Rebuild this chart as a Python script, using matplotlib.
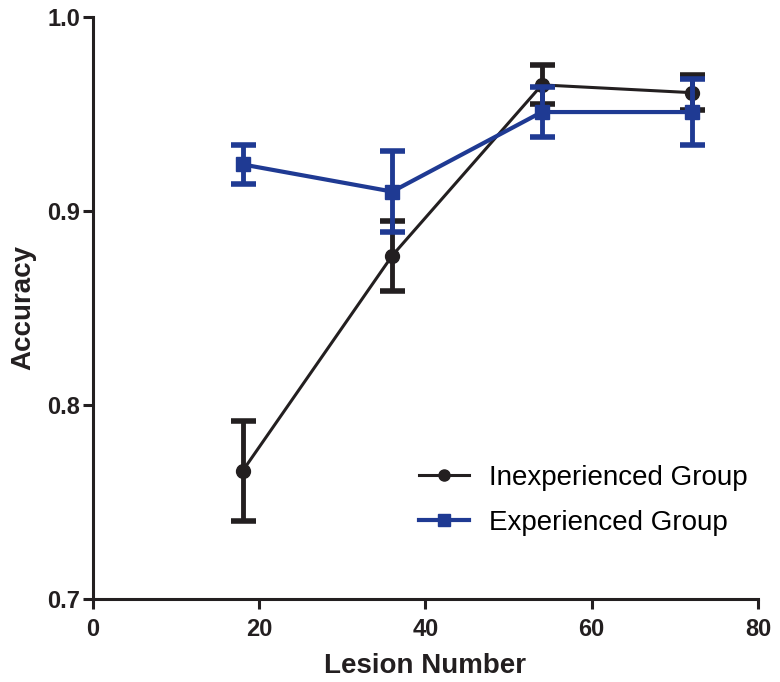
import numpy as np
import matplotlib.pyplot as plt
from matplotlib.lines import Line2D

# lesion number on x, accuracy (mean and SEM) on y
lesion_number = [18, 36, 54, 72]
inexp_acc = [0.766, 0.877, 0.965, 0.961]
inexp_err = [0.026, 0.018, 0.010, 0.009]
exp_acc = [0.924, 0.910, 0.951, 0.951]
exp_err = [0.010, 0.021, 0.013, 0.017]

black = '#231f20'
blue = '#1f3a93'

plt.rcParams['font.family'] = ['Liberation Sans', 'DejaVu Sans']

fig = plt.figure(figsize=(7.8, 6.82), dpi=100)
ax = fig.add_axes([0.1192, 0.1217, 0.8526, 0.8534])

ax.errorbar(lesion_number, inexp_acc, yerr=inexp_err, color=black, lw=2.2,
            marker='o', ms=10, elinewidth=3.5, capsize=9, capthick=4,
            label='Inexperienced Group', zorder=3)
ax.errorbar(lesion_number, exp_acc, yerr=exp_err, color=blue, lw=3,
            marker='s', ms=10, elinewidth=3.5, capsize=9, capthick=4,
            label='Experienced Group', zorder=4)

ax.set_xlim(0, 80)
ax.set_ylim(0.7, 1.0)
ax.set_xticks([0, 20, 40, 60, 80])
ax.set_yticks([0.7, 0.8, 0.9, 1.0])
ax.set_yticklabels(['0.7', '0.8', '0.9', '1.0'])

for side in ['top', 'right']:
    ax.spines[side].set_visible(False)
for side in ['left', 'bottom']:
    ax.spines[side].set_linewidth(2.2)
    ax.spines[side].set_color(black)
ax.tick_params(width=2.2, length=7, color=black, labelsize=17)
ax.tick_params(axis='x', pad=7)
ax.tick_params(axis='y', pad=2)
for lbl in ax.get_xticklabels() + ax.get_yticklabels():
    lbl.set_fontweight('bold')
    lbl.set_color(black)

ax.set_xlabel('Lesion Number', fontsize=20, fontweight='bold', color=black, labelpad=8)
ax.set_ylabel('Accuracy', fontsize=20, fontweight='bold', color=black, labelpad=8)

handles = [Line2D([], [], color=black, lw=2.2, marker='o', ms=8),
           Line2D([], [], color=blue, lw=3, marker='s', ms=8)]
ax.legend(handles, ['Inexperienced Group', 'Experienced Group'], frameon=False,
          fontsize=20, loc='lower left', bbox_to_anchor=(0.453, 0.065),
          handlelength=1.8, handletextpad=0.7, labelspacing=0.7)

fig.savefig('out.png', dpi=100)
